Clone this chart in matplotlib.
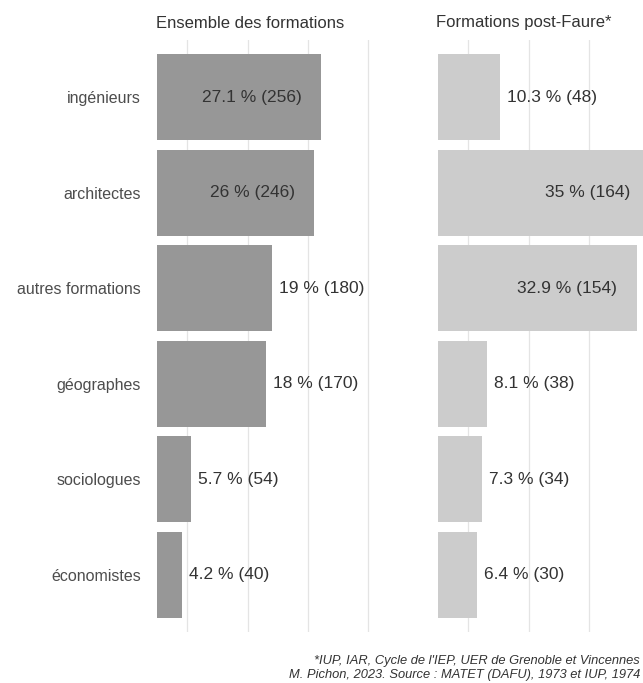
import matplotlib

matplotlib.use("Agg")
import matplotlib.pyplot as plt

plt.rcParams["font.family"] = ["Liberation Sans", "DejaVu Sans"]

# ---------------------------------------------------------------------------
# Data
# ---------------------------------------------------------------------------

categories = ["ingénieurs", "architectes", "autres formations", "géographes", "sociologues", "économistes"]
pct_all = [27.1, 26, 19, 18, 5.7, 4.2]
n_all = [256, 246, 180, 170, 54, 40]
pct_pf = [10.3, 35, 32.9, 8.1, 7.3, 6.4]
n_pf = [48, 164, 154, 38, 34, 30]
panel_titles = ["Ensemble des formations", "Formations post-Faure*"]
grid_breaks = [5, 15, 25, 35]
caption = (
    "*IUP, IAR, Cycle de l'IEP, UER de Grenoble et Vincennes\n"
    "M. Pichon, 2023. Source : MATET (DAFU), 1973 et IUP, 1974"
)

W, H = 643, 683
fig = plt.figure(figsize=(W / 100, H / 100), dpi=100)
fig.patch.set_facecolor("white")


def px_axes(x0, y0, x1, y1):
    # pixel box (top-left origin) -> figure axes
    return fig.add_axes([x0 / W, 1 - y1 / H, (x1 - x0) / W, (y1 - y0) / H])


panels = [
    (146.5, pct_all, n_all, "#979797"),
    (427.5, pct_pf, n_pf, "#cccccc"),
]

for i, (x0, pct, n, color) in enumerate(panels):
    ax = px_axes(x0, 40, x0 + 232.5, 632)
    ax.set_xlim(-1.75, 36.75)
    ax.set_ylim(len(categories) - 0.4, -0.6)
    for b in grid_breaks:
        ax.axvline(b, color="#e4e4e4", linewidth=0.9, zorder=0)
    ypos = range(len(categories))
    ax.barh(list(ypos), pct, height=0.9, color=color, zorder=2)
    for y, p, c in zip(ypos, pct, n):
        lbl = f"{p:g} % ({c})"
        if p > 20:
            ax.annotate(lbl, (p, y), xytext=(-14, 0), textcoords="offset points",
                        ha="right", va="center", fontsize=12.5, color="#333333", zorder=3)
        else:
            ax.annotate(lbl, (p, y), xytext=(5, 0), textcoords="offset points",
                        ha="left", va="center", fontsize=12.5, color="#333333", zorder=3)
    ax.set_xticks([])
    if i == 0:
        ax.set_yticks(list(ypos))
        ax.set_yticklabels(categories, fontsize=11.5, color="#4d4d4d")
        ax.tick_params(axis="y", length=0, pad=4)
    else:
        ax.set_yticks([])
    for sp in ax.spines.values():
        sp.set_visible(False)
    ax.set_facecolor("none")
    fig.text((x0 + 9) / W, 1 - 23 / H, panel_titles[i], ha="left", va="center",
             fontsize=12, color="#333333")

fig.text(640 / W, 1 - 668 / H, caption, ha="right", va="center", fontsize=9.3,
         style="italic", color="#333333", linespacing=1.3)

fig.savefig("out.png", dpi=100)
